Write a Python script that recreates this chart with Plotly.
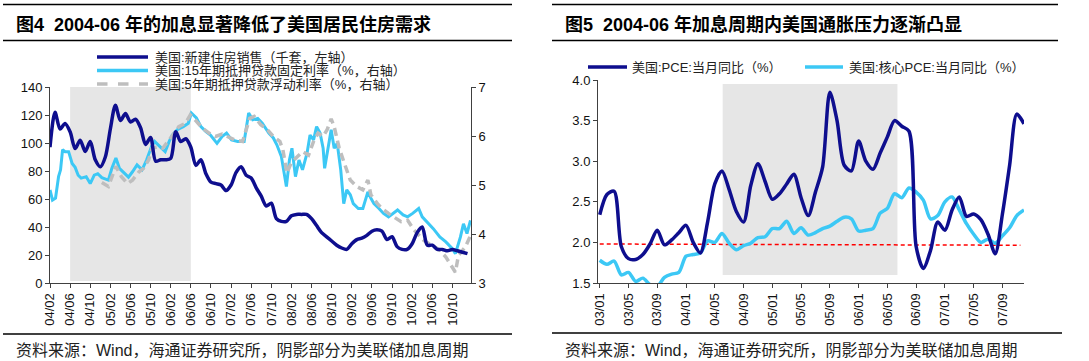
import plotly.graph_objects as go

# ---------------- Left chart data (x = months since 2004-02) ----------------
left_tick_labels = ["04/02", "04/06", "04/10", "05/02", "05/06", "05/10", "06/02", "06/06",
                    "06/10", "07/02", "07/06", "07/10", "08/02", "08/06", "08/10", "09/02",
                    "09/06", "09/10", "10/02", "10/06", "10/10"]
left_tick_pos = [4 * i for i in range(len(left_tick_labels))]

home_sales = [97, 122, 110, 114, 108, 96, 102, 94, 101, 88, 83, 90,
              110, 127, 116, 121, 115, 117, 111, 99, 104, 87, 88, 88,
              89, 108, 101, 103, 97, 84, 88, 78, 72, 71, 70, 66,
              70, 79, 83, 77, 75, 68, 62, 55, 57, 46, 44, 44,
              48, 49, 49, 49, 46, 41, 36, 33, 30, 27, 25, 24,
              28, 31, 32, 34, 37, 38, 37, 31, 33, 26, 24, 24,
              28, 36, 40, 27, 27, 24, 24, 23, 24, 23, 22, 21]
home_sales_month = list(range(len(home_sales)))

rate15_month = [0.0, 0.5, 1.1, 1.7, 2.1, 2.5, 3.0, 3.7, 4.4, 5.0, 5.6, 6.2, 7.2, 8.0, 8.8, 9.5,
                10.3, 11.6, 12.3, 13.1, 13.8, 14.8, 15.6, 16.4, 17.3, 18.3, 19.2, 20.2, 20.8,
                21.5, 22.2, 22.9, 23.7, 24.3, 25.3, 26.5, 27.5, 28.1, 29.1, 30.0, 31.0, 31.9,
                33.2, 34.2, 35.1, 36.1, 37.3, 38.6, 39.5, 40.3, 41.3, 42.2, 43.5, 44.4, 45.1,
                46.0, 47.0, 47.6, 48.1, 48.8, 49.5, 50.2, 51.1, 51.7, 52.4, 53.0, 53.7, 54.3,
                54.6, 55.2, 55.9, 56.5, 57.1, 57.8, 58.4, 59.0, 59.7, 60.3, 61.3, 62.2, 63.2,
                63.8, 64.4, 65.4, 66.3, 67.3, 68.3, 69.1, 70.2, 71.1, 72.1, 73.3, 74.0, 74.9,
                76.2, 77.5, 78.7, 80.0, 80.6, 81.6, 82.2, 82.9, 83.6]
rate15_value = [4.90, 4.69, 4.73, 5.17, 5.31, 5.72, 5.68, 5.68, 5.44, 5.36, 5.20, 5.14, 5.17, 5.03,
                5.20, 5.23, 5.15, 5.10, 5.34, 5.55, 5.34, 5.24, 5.16, 5.27, 5.41, 5.31, 5.51, 5.79,
                5.89, 5.82, 5.75, 5.68, 5.89, 6.02, 6.13, 6.19, 6.26, 6.47, 6.37, 6.19, 6.09, 6.02,
                5.85, 5.99, 6.06, 5.92, 5.89, 5.89, 6.47, 6.33, 6.36, 6.26, 6.06, 5.96, 5.82,
                5.58, 4.97, 5.51, 5.75, 5.17, 5.51, 5.31, 5.65, 6.02, 5.92, 6.19, 6.06, 5.75,
                5.34, 5.68, 6.13, 5.75, 5.85, 5.31, 4.62, 4.90, 4.80, 4.62, 4.52, 4.52, 4.86,
                4.73, 4.62, 4.52, 4.42, 4.35, 4.42, 4.49, 4.39, 4.35, 4.42, 4.52, 4.35, 4.25,
                4.11, 3.94, 3.84, 3.70, 3.60, 3.94, 4.21, 4.01, 4.28]

arm5_month = [10.3, 11.6, 13.1, 14.2, 15.4, 16.4, 17.7, 18.6, 19.6, 20.3, 21.5, 22.4, 23.7, 24.6,
              25.6, 26.9, 27.9, 29.1, 30.3, 31.6, 32.9, 34.2, 35.3, 36.7, 38.3, 39.7, 40.6, 41.9,
              43.2, 44.4, 45.7, 46.3, 47.1, 47.9, 48.9, 50.2, 51.4, 52.4, 53.3, 54.3, 55.1, 55.9,
              56.5, 57.5, 58.4, 59.7, 61.0, 62.2, 63.2, 63.8, 65.1, 66.0, 67.3, 68.6, 69.8, 71.1,
              72.4, 74.3, 75.9, 77.5, 78.7, 80.3, 80.6, 81.2, 82.6, 83.6]
arm5_value = [5.05, 4.97, 5.38, 5.17, 5.03, 5.10, 5.27, 5.34, 5.51, 5.75, 5.78, 5.75, 5.92, 6.06,
              6.19, 6.26, 6.43, 6.30, 6.16, 6.06, 5.99, 6.04, 5.99, 5.92, 5.89, 6.36, 6.40, 6.23,
              6.13, 5.99, 5.89, 5.72, 5.24, 5.44, 5.55, 5.68, 5.61, 5.89, 6.06, 5.99, 6.13, 6.35,
              6.19, 5.75, 5.48, 5.10, 4.97, 4.90, 5.10, 4.80, 4.62, 4.52, 4.42, 4.32, 4.25, 4.28,
              4.08, 3.87, 3.77, 3.67, 3.53, 3.26, 3.22, 3.56, 3.74, 3.97]

left_hike_start, left_hike_end = 4, 28  # 04/06 .. 06/06

# ---------------- Right chart data (x = months since 2003-01) ----------------
right_tick_labels = ["03/01", "03/05", "03/09", "04/01", "04/05", "04/09", "05/01", "05/05",
                     "05/09", "06/01", "06/05", "06/09", "07/01", "07/05", "07/09"]
right_tick_pos = [4 * i for i in range(len(right_tick_labels))]

pce = [2.34, 2.59, 2.63, 1.95, 1.80, 1.79, 1.85, 1.98, 2.15, 1.97, 2.03, 2.12,
       2.21, 2.00, 1.87, 2.25, 2.72, 2.88, 2.65, 2.38, 2.25, 2.70, 2.97, 2.75,
       2.53, 2.60, 2.72, 2.84, 2.55, 2.33, 2.62, 2.93, 3.85, 3.50, 2.95, 2.88,
       3.25, 3.00, 2.90, 3.10, 3.30, 3.50, 3.43, 3.37, 1.95, 1.68, 1.90, 2.25,
       2.15, 2.40, 2.56, 2.32, 2.35, 2.28, 2.10, 1.86, 2.35, 2.95, 3.58, 3.46]
core_pce = [1.78, 1.73, 1.77, 1.60, 1.63, 1.52, 1.56, 1.48, 1.46, 1.57, 1.61, 1.63,
            1.83, 1.85, 1.87, 2.02, 2.00, 2.11, 1.99, 1.91, 1.96, 1.99, 2.06, 2.07,
            2.17, 2.17, 2.26, 2.11, 2.18, 2.09, 2.12, 2.17, 2.20, 2.26, 2.31, 2.29,
            2.14, 2.15, 2.17, 2.36, 2.42, 2.60, 2.55, 2.67, 2.62, 2.52, 2.29, 2.33,
            2.50, 2.56, 2.40, 2.23, 2.10, 2.00, 2.04, 1.99, 2.08, 2.18, 2.33, 2.40]
pce_month = list(range(len(pce)))

right_hike_start, right_hike_end = 17.1, 41.4
inflation_ref_x = [0, 58.5]
inflation_ref_y = [1.98, 1.965]

# ---------------- Styles ----------------
W, H = 1089, 361
NAVY = "#0E0E8E"
SKY = "#3CC8F5"
GREY = "#BEBEBE"
SHADE = "#E6E6E6"
AXIS = "#404040"
TICKFONT = dict(family="Liberation Sans, Arial, sans-serif", size=13, color="#111")
CJK = "Liberation Sans, Noto Sans CJK SC, sans-serif"


def px(x):
    return x / W


def py(y):
    return 1 - y / H


fig = go.Figure()

# left chart traces
fig.add_trace(go.Scatter(x=rate15_month, y=rate15_value, mode="lines", xaxis="x", yaxis="y",
                         line=dict(color=SKY, width=3), showlegend=False))
fig.add_trace(go.Scatter(x=arm5_month, y=arm5_value, mode="lines", xaxis="x", yaxis="y",
                         line=dict(color=GREY, width=3.5, dash="8px,5px"), showlegend=False))
fig.add_trace(go.Scatter(x=home_sales_month, y=home_sales, mode="lines", xaxis="x", yaxis="y2",
                         line=dict(color=NAVY, width=3.5, shape="spline", smoothing=0.8),
                         showlegend=False))

# right chart traces
fig.add_trace(go.Scatter(x=inflation_ref_x, y=inflation_ref_y, mode="lines", xaxis="x2", yaxis="y3",
                         line=dict(color="#FF0000", width=1.5, dash="4px,3px"), showlegend=False))
fig.add_trace(go.Scatter(x=pce_month, y=core_pce, mode="lines", xaxis="x2", yaxis="y3",
                         line=dict(color=SKY, width=3.5, shape="spline", smoothing=0.8),
                         cliponaxis=False, showlegend=False))
fig.add_trace(go.Scatter(x=pce_month, y=pce, mode="lines", xaxis="x2", yaxis="y3",
                         line=dict(color=NAVY, width=3.5, shape="spline", smoothing=0.8),
                         cliponaxis=False, showlegend=False))

L_X0, L_X1 = 50, 471
R_X0, R_X1 = 598, 1024
Y_BOT = 283
L_TOP, R_TOP = 87, 80

axis_common = dict(showgrid=False, zeroline=False, showline=True, linecolor=AXIS, linewidth=1,
                   ticks="outside", ticklen=4, tickcolor=AXIS, tickwidth=1, tickfont=TICKFONT,
                   automargin=False)

fig.update_layout(
    width=W, height=H, autosize=False,
    margin=dict(l=0, r=0, t=0, b=0, pad=0),
    paper_bgcolor="white", plot_bgcolor="rgba(0,0,0,0)",
    xaxis=dict(domain=[px(L_X0), px(L_X1)], range=[0, 83.7], anchor="y",
               tickmode="array", tickvals=left_tick_pos, ticktext=left_tick_labels,
               tickangle=-90, **axis_common),
    yaxis=dict(domain=[py(Y_BOT), py(L_TOP)], range=[3, 7], side="right", anchor="x",
               tickmode="array", tickvals=[3, 4, 5, 6, 7], **axis_common),
    yaxis2=dict(range=[0, 140], overlaying="y", side="left", anchor="x",
                tickmode="array", tickvals=list(range(0, 141, 20)), **axis_common),
    xaxis2=dict(domain=[px(R_X0), px(R_X1)], range=[-0.24, 59.0], anchor="y3",
                tickmode="array", tickvals=right_tick_pos, ticktext=right_tick_labels,
                tickangle=-90, **axis_common),
    yaxis3=dict(domain=[py(Y_BOT), py(R_TOP)], range=[1.5, 4.0], anchor="x2",
                tickmode="array", tickvals=[1.5, 2.0, 2.5, 3.0, 3.5, 4.0], tickformat=".1f",
                **axis_common),
)

shapes = [
    dict(type="rect", xref="x", yref="y2", x0=left_hike_start, x1=left_hike_end, y0=1.5, y1=140,
         fillcolor=SHADE, line=dict(width=0), layer="below"),
    dict(type="rect", xref="x2", yref="y3", x0=right_hike_start, x1=right_hike_end, y0=1.6, y1=3.95,
         fillcolor=SHADE, line=dict(width=0), layer="below"),
]
# frame rules
for (x0, x1, y) in [(3, 512, 4.5), (3, 512, 40.5), (3, 512, 334),
                    (552, 1058, 4.5), (552, 1058, 40.5), (552, 1062, 333)]:
    shapes.append(dict(type="line", xref="paper", yref="paper", x0=px(x0), x1=px(x1),
                       y0=py(y), y1=py(y), line=dict(color="black", width=1.3)))

# legend samples
legend_left = [("美国:新建住房销售（千套，左轴）", NAVY, "solid", 57),
               ("美国:15年期抵押贷款固定利率（%，右轴）", SKY, "solid", 70.5),
               ("美国:5年期抵押贷款浮动利率（%，右轴）", GREY, "dash", 84)]
annotations = []
for text, col, dash, yy in legend_left:
    shapes.append(dict(type="line", xref="paper", yref="paper", x0=px(97), x1=px(148),
                       y0=py(yy), y1=py(yy), line=dict(color=col, width=3.5, dash=dash)))
    annotations.append(dict(x=px(153), y=py(yy), xref="paper", yref="paper", text=text,
                            showarrow=False, xanchor="left", yanchor="middle",
                            font=dict(family=CJK, size=13, color="#222")))

legend_right = [("美国:PCE:当月同比（%）", NAVY, 588, 627, 630),
                ("美国:核心PCE:当月同比（%）", SKY, 805, 843, 847)]
for text, col, lx0, lx1, tx in legend_right:
    shapes.append(dict(type="line", xref="paper", yref="paper", x0=px(lx0), x1=px(lx1),
                       y0=py(67), y1=py(67), line=dict(color=col, width=3.5)))
    annotations.append(dict(x=px(tx), y=py(67), xref="paper", yref="paper", text=text,
                            showarrow=False, xanchor="left", yanchor="middle",
                            font=dict(family=CJK, size=13, color="#222")))

# titles
annotations.append(dict(x=px(14), y=py(24), xref="paper", yref="paper",
                        text="<b>图4  2004-06 年的加息显著降低了美国居民住房需求</b>",
                        showarrow=False, xanchor="left", yanchor="middle",
                        font=dict(family=CJK, size=18, color="black")))
annotations.append(dict(x=px(563), y=py(24), xref="paper", yref="paper",
                        text="<b>图5  2004-06 年加息周期内美国通胀压力逐渐凸显</b>",
                        showarrow=False, xanchor="left", yanchor="middle",
                        font=dict(family=CJK, size=18, color="black")))
# sources
for sx in (14, 563):
    annotations.append(dict(x=px(sx), y=py(350), xref="paper", yref="paper",
                            text="资料来源：Wind，海通证券研究所，阴影部分为美联储加息周期",
                            showarrow=False, xanchor="left", yanchor="middle",
                            font=dict(family=CJK, size=16, color="#222")))

fig.update_layout(shapes=shapes, annotations=annotations)
fig.write_html("out.html", config={"displayModeBar": False},
               post_script="document.body.style.margin='0';document.body.style.padding='0';"
                           "document.documentElement.style.overflow='hidden';")
